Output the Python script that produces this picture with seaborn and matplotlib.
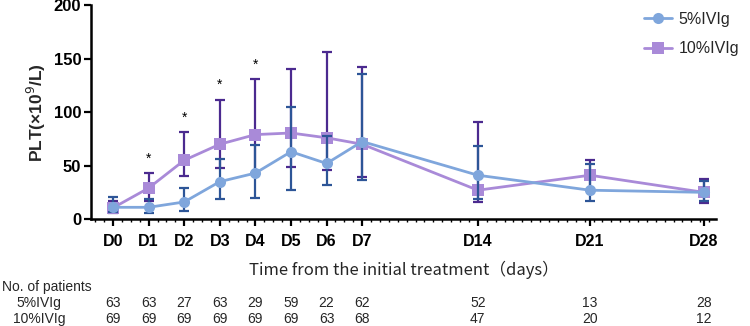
import matplotlib
matplotlib.use("Agg")
import matplotlib.pyplot as plt
import matplotlib.transforms as mtransforms
from matplotlib.ticker import FixedLocator
import seaborn as sns
import pandas as pd

# ---- data ----
days = ['D0', 'D1', 'D2', 'D3', 'D4', 'D5', 'D6', 'D7', 'D14', 'D21', 'D28']
day_pos = [0, 1, 2, 3, 4, 5, 6, 7, 10.25, 13.4, 16.6]
mean_5 = [11, 11, 16, 35, 43, 63, 52, 72.5, 41, 27, 25]
low_5 = [6.5, 5.3, 7.7, 19, 20, 27, 31.6, 36.9, 18.6, 16.7, 16.7]
high_5 = [21, 18.6, 29.5, 56, 69, 105, 78, 136, 68, 51.5, 35.6]
mean_10 = [10.5, 29, 55, 70, 79, 80.5, 76, 70, 27, 41, 25]
low_10 = [6, 17, 40, 47.4, 43, 48.6, 46, 39.7, 15.5, 27, 14.9]
high_10 = [17, 43, 81, 111.5, 131, 140, 156.5, 142.5, 91, 55, 37.8]
signif = ['', '*', '*', '*', '*', '', '', '', '', '', '']
n_5 = [63, 63, 27, 63, 29, 59, 22, 62, 52, 13, 28]
n_10 = [69, 69, 69, 69, 69, 69, 63, 68, 47, 20, 12]
groups = ['5%IVIg', '10%IVIg']
y_ticks = [0, 50, 100, 150, 200]

# ---- style ----
sns.set_theme(style="white")
plt.rcParams['font.family'] = ['Liberation Sans', 'DejaVu Sans']
narrow = ['Liberation Sans Narrow', 'Liberation Sans', 'DejaVu Sans']
narrow_cjk = ['Liberation Sans Narrow', 'Noto Sans CJK SC', 'DejaVu Sans']

line_col = {'5%IVIg': '#7FA6DC', '10%IVIg': '#A98AD8'}
err_col = {'5%IVIg': '#2D5597', '10%IVIg': '#4B2A8F'}
marker = {'5%IVIg': 'o', '10%IVIg': 's'}

df = pd.DataFrame({
    'pos': day_pos * 2,
    'PLT': mean_5 + mean_10,
    'group': [groups[0]] * len(days) + [groups[1]] * len(days),
})

fig = plt.figure(figsize=(7.5, 3.26), dpi=100)
ax = fig.add_axes([0.1213, 0.328, 0.8333, 0.656])

series = {
    '10%IVIg': (mean_10, low_10, high_10),
    '5%IVIg': (mean_5, low_5, high_5),
}
z = 2
for g in ['10%IVIg', '5%IVIg']:
    m, lo, hi = series[g]
    yerr = [[a - b for a, b in zip(m, lo)], [b - a for a, b in zip(m, hi)]]
    ax.errorbar(day_pos, m, yerr=yerr, fmt='none', ecolor=err_col[g],
                elinewidth=1.6, capsize=3.4, capthick=1.6, zorder=z)
    sns.lineplot(data=df[df.group == g], x='pos', y='PLT', ax=ax,
                 color=line_col[g], marker=marker[g], markersize=8,
                 markeredgewidth=0, linewidth=2, zorder=z + 1, label=g,
                 legend=False)
    z += 2

# significance stars
for p, h, s in zip(day_pos, high_10, signif):
    if s:
        ax.annotate(s, (p, h), xytext=(0, 10.5), textcoords='offset points',
                    ha='center', va='center', fontsize=10, color='black')

ax.set_xlim(-0.62, 16.94)
ax.set_ylim(0, 200)
ax.set_yticks(y_ticks)
ax.set_xticks(day_pos)
ax.set_xticklabels(days, fontfamily=narrow, fontweight='bold', fontsize=11.5)
ax.xaxis.set_minor_locator(FixedLocator([-0.5 + 0.25 * i for i in range(70)]))
for lab in ax.get_yticklabels():
    lab.set_fontweight('bold')
    lab.set_fontsize(12)
ax.tick_params(axis='both', which='major', direction='out', length=5, width=1.6,
               color='black', bottom=True, left=True, pad=2, labelcolor='black')
ax.tick_params(axis='x', which='minor', direction='out', length=2, width=1,
               color='black', bottom=True)
ax.tick_params(axis='x', pad=6)
for sp in ['top', 'right']:
    ax.spines[sp].set_visible(False)
for sp in ['left', 'bottom']:
    ax.spines[sp].set_linewidth(1.8)
    ax.spines[sp].set_color('black')
ax.grid(False)

ax.set_xlabel('Time from the initial treatment（days）', fontfamily=narrow_cjk,
              fontsize=12, labelpad=8)
ax.set_ylabel('PLT(×10$^{9}$/L)', fontweight='bold', fontsize=12.5, labelpad=4)

# legend
h, l = ax.get_legend_handles_labels()
order = [l.index('5%IVIg'), l.index('10%IVIg')]
leg = ax.legend([h[i] for i in order], [l[i] for i in order],
                loc='upper left', bbox_to_anchor=(0.858, 0.963),
                bbox_transform=fig.transFigure, frameon=False, fontsize=11.5,
                handlelength=1.8, labelspacing=0.9, handletextpad=0.4,
                borderpad=0, borderaxespad=0)

# patient numbers table
tr = mtransforms.blended_transform_factory(ax.transData, fig.transFigure)
fig.text(0.003, 1 - 287 / 326, 'No. of patients', fontfamily=narrow, fontsize=10,
         va='center', ha='left')
fig.text(0.052, 1 - 303 / 326, groups[0], fontfamily=narrow, fontsize=10,
         va='center', ha='center')
fig.text(0.052, 1 - 319 / 326, groups[1], fontfamily=narrow, fontsize=10,
         va='center', ha='center')
for p, a, b in zip(day_pos, n_5, n_10):
    ax.text(p, 1 - 303 / 326, str(a), transform=tr, fontfamily=narrow,
            fontsize=10, ha='center', va='center')
    ax.text(p, 1 - 319 / 326, str(b), transform=tr, fontfamily=narrow,
            fontsize=10, ha='center', va='center')

fig.savefig('out.png', dpi=100)
